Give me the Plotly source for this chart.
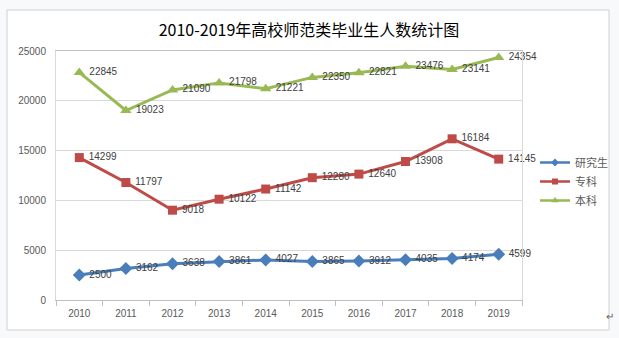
import plotly.graph_objects as go

years = ["2010", "2011", "2012", "2013", "2014", "2015", "2016", "2017", "2018", "2019"]
yanjiusheng = [2500, 3162, 3638, 3861, 4027, 3865, 3912, 4035, 4174, 4599]
zhuanke = [14299, 11797, 9018, 10122, 11142, 12280, 12640, 13908, 16184, 14145]
benke = [22845, 19023, 21090, 21798, 21221, 22350, 22821, 23476, 23141, 24354]
series_names = ["研究生", "专科", "本科"]
title_text = "2010-2019年高校师范类毕业生人数统计图"

W, H = 619, 338
ML, MR, MT, MB = 56, 97, 51, 38
PW, PH = W - ML - MR, H - MT - MB


def px_x(p):
    return (p - ML) / PW


def px_y(p):
    return (H - MB - p) / PH


num_font = dict(family="Liberation Sans, Arial, sans-serif", size=10, color="#404040")

fig = go.Figure()
specs = [
    (series_names[0], yanjiusheng, "#4A7EBB", "diamond", 10, 6),
    (series_names[1], zhuanke, "#BE4B48", "square", 9, 6),
    (series_names[2], benke, "#98B954", "triangle-up", 10, 7),
]
for name, vals, col, sym, ms, lms in specs:
    fig.add_trace(go.Scatter(
        x=years, y=vals, name=name, mode="lines+markers+text",
        line=dict(color=col, width=3),
        marker=dict(symbol=sym, size=ms, color=col),
        text=[" " + str(v) for v in vals], textposition="middle right",
        textfont=num_font, cliponaxis=False, showlegend=False,
    ))
    fig.add_trace(go.Scatter(
        x=[None], y=[None], name=name, mode="lines+markers",
        line=dict(color=col, width=2.5),
        marker=dict(symbol=sym, size=lms, color=col),
    ))

fig.update_layout(
    width=W, height=H,
    margin=dict(l=ML, r=MR, t=MT, b=MB, autoexpand=False),
    paper_bgcolor="#F8F9FB",
    plot_bgcolor="white",
    title=dict(text=title_text, x=px_x(309), xref="paper", xanchor="center",
               y=1 - 30 / H, yanchor="middle",
               font=dict(family="Noto Sans CJK SC, sans-serif", size=16, color="#000000")),
    xaxis=dict(type="category", range=[-0.5, 9.5], showgrid=False,
               showline=True, linecolor="#BFBFBF", linewidth=1, mirror=True,
               ticks="outside", tickson="boundaries", ticklen=5, tickcolor="#BFBFBF",
               ticklabelstandoff=4,
               tickfont=dict(family="Liberation Sans, Arial, sans-serif", size=10, color="#595959")),
    yaxis=dict(range=[0, 25000], dtick=5000, tickformat="d", showgrid=True, gridcolor="#D9D9D9",
               showline=True, linecolor="#D9D9D9", linewidth=1, mirror=True,
               zeroline=False, ticks="", ticklabelstandoff=7,
               tickfont=dict(family="Liberation Sans, Arial, sans-serif", size=10, color="#595959")),
    legend=dict(x=px_x(535), xanchor="left", y=px_y(148), yanchor="top",
                bgcolor="rgba(0,0,0,0)", tracegroupgap=0, itemwidth=30,
                font=dict(family="Noto Sans CJK SC, sans-serif", size=11, color="#595959")),
    shapes=[dict(type="rect", xref="paper", yref="paper", layer="below",
                 x0=px_x(7), x1=px_x(609), y0=px_y(330), y1=px_y(10),
                 fillcolor="white", line=dict(color="#D0D0D0", width=1))],
    annotations=[dict(text="↵", xref="paper", yref="paper", x=px_x(616), y=px_y(325),
                      showarrow=False, font=dict(size=10, color="#606060"))],
)

fig.write_html("out.html")
